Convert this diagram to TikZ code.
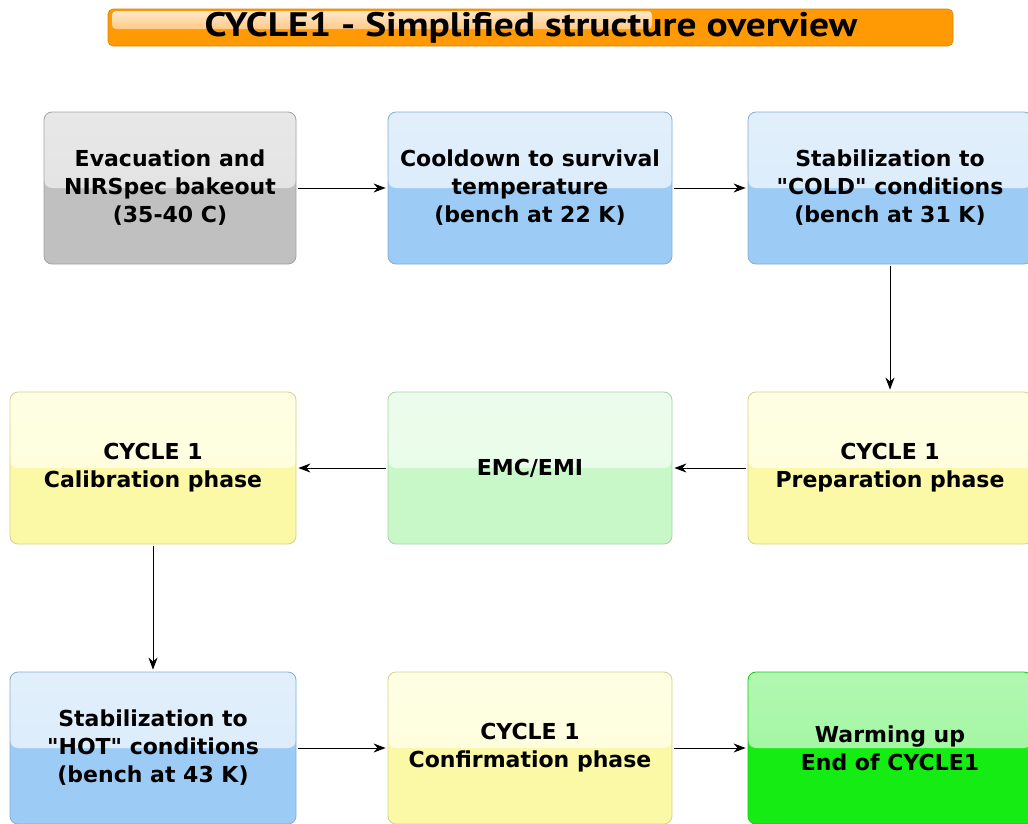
\documentclass[tikz,border=0pt]{standalone}
\usepackage{fontspec}
\setmainfont{DejaVu Sans}
\newfontfamily\titlefont[FakeStretch=1.16]{PT Sans}
\usetikzlibrary{positioning, calc, arrows.meta}

\definecolor{greyTop}{HTML}{E0E0E0}
\definecolor{greyBot}{HTML}{C0C0C0}
\definecolor{blueTop}{HTML}{D8EAFA}
\definecolor{blueBot}{HTML}{9CCCF6}
\definecolor{yelTop}{HTML}{FEFEDA}
\definecolor{yelBot}{HTML}{FBF8A6}
\definecolor{mintTop}{HTML}{E6FBE6}
\definecolor{mintBot}{HTML}{C8F7C8}
\definecolor{greenTop}{HTML}{98F598}
\definecolor{greenBot}{HTML}{14EC14}
\definecolor{barOrange}{HTML}{FF9A05}
\definecolor{barLight}{HTML}{FFD7A6}

\tikzset{
  stagebox/.style 2 args={draw=#2!85!black, line width=0.8pt, rounded corners=8pt,
    fill=#2, align=center, font=\bfseries\fontsize{22}{28}\selectfont,
    minimum height=152pt, inner sep=0pt,
    path picture={\shade[top color=#1!75!white, bottom color=#1]
      (path picture bounding box.north west) rectangle (path picture bounding box.east);}},
  flow/.style={-{Stealth[length=12pt,width=9pt]}, line width=0.9pt, black, shorten <=2pt, shorten >=2pt},
}

\begin{document}
\begin{tikzpicture}[x=1pt, y=-1pt]
    \useasboundingbox (0,0) rectangle (1028,823);
    \clip (0,0) rectangle (1028,823);
    %barra del titolo
    \draw[barOrange!85!black, fill=barOrange, rounded corners=5pt, line width=0.6pt] (108,9) rectangle (953,46);
    \shade[top color=barLight!60!white, bottom color=barLight!80!barOrange, rounded corners=4pt] (112,11) rectangle (652,29);
    \node[font=\titlefont\bfseries\fontsize{34}{36}\selectfont] (title) at (531,27.5) {CYCLE1 - Simplified structure overview};
    %prima riga
    \node[stagebox={greyTop}{greyBot}, minimum width=252pt] (evac) at (170,188) {Evacuation and\\NIRSpec bakeout\\(35-40 C)};
    \node[stagebox={blueTop}{blueBot}, minimum width=284pt] (cooldown) at (530,188) {Cooldown to survival\\temperature\\(bench at 22 K)};
    \node[stagebox={blueTop}{blueBot}, minimum width=284pt] (cold) at (890,188) {Stabilization to\\\textquotedbl COLD\textquotedbl{} conditions\\(bench at 31 K)};
    %seconda riga
    \node[stagebox={yelTop}{yelBot}, minimum width=286pt] (calib) at (153,468) {CYCLE 1\\Calibration phase};
    \node[stagebox={mintTop}{mintBot}, minimum width=284pt] (emc) at (530,468) {EMC/EMI};
    \node[stagebox={yelTop}{yelBot}, minimum width=284pt] (prep) at (890,468) {CYCLE 1\\Preparation phase};
    %terza riga
    \node[stagebox={blueTop}{blueBot}, minimum width=286pt] (hot) at (153,748) {Stabilization to\\\textquotedbl HOT\textquotedbl{} conditions\\(bench at 43 K)};
    \node[stagebox={yelTop}{yelBot}, minimum width=284pt] (confirm) at (530,748) {CYCLE 1\\Confirmation phase};
    \node[stagebox={greenTop}{greenBot}, minimum width=284pt] (warm) at (890,748) {Warming up\\End of CYCLE1};
    %frecce
    \draw[flow] (evac) -- (cooldown);
    \draw[flow] (cooldown) -- (cold);
    \draw[flow] (cold) -- (prep);
    \draw[flow] (prep) -- (emc);
    \draw[flow] (emc) -- (calib);
    \draw[flow] (calib) -- (hot);
    \draw[flow] (hot) -- (confirm);
    \draw[flow] (confirm) -- (warm);
\end{tikzpicture}
\end{document}
